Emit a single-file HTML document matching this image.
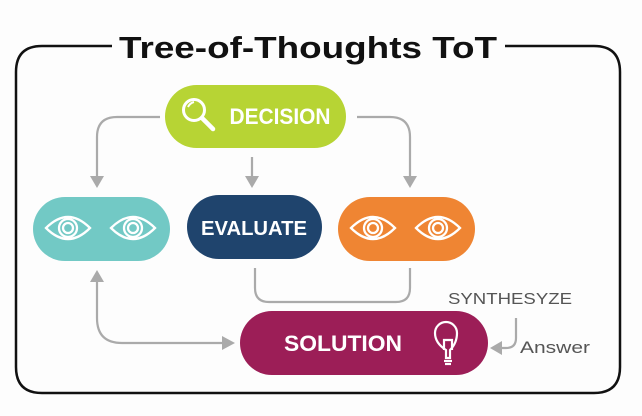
<!DOCTYPE html>
<html><head><meta charset="utf-8"><style>
html,body{margin:0;padding:0;background:#fff;}
svg{display:block;}
text{font-family:"Liberation Sans",sans-serif;}
</style></head><body>
<svg width="642" height="416" viewBox="0 0 642 416" xmlns="http://www.w3.org/2000/svg">
<rect width="642" height="416" fill="#fdfdfd"/>
<!-- frame -->
<path d="M112 46 H42 Q16 46 16 72 V367 Q16 393 42 393 H594 Q620 393 620 367 V72 Q620 46 594 46 H505" fill="none" stroke="#111" stroke-width="2.5"/>
<text x="308" y="58" text-anchor="middle" font-size="31" font-weight="bold" fill="#111" textLength="378" lengthAdjust="spacingAndGlyphs">Tree-of-Thoughts  ToT</text>

<g fill="none" stroke="#aaa" stroke-width="2.2">
<!-- decision branches -->
<path d="M160 117 H117 Q97 117 97 137 V178"/>
<path d="M357 117 H390 Q410 117 410 137 V178"/>
<path d="M252 157 V178"/>
<!-- bracket -->
<path d="M255 268 V288 Q255 302 269 302 H396 Q410 302 410 288 V268"/>
<!-- left loop -->
<path d="M97 282 V318 Q97 343 122 343 H224"/>
<!-- answer arrow -->
<path d="M516 318 V338 Q516 348 506 348 H500"/>
</g>
<g fill="#aaa">
<polygon points="90,176 104,176 97,188"/>
<polygon points="403,176 417,176 410,188"/>
<polygon points="245,176 259,176 252,188"/>
<polygon points="90,282 104,282 97,270"/>
<polygon points="222,336 222,350 235,343"/>
<polygon points="502,341 502,355 490,348"/>
</g>

<!-- decision -->
<rect x="165" y="85" width="181" height="63" rx="31.5" fill="#b7d434"/>
<circle cx="194" cy="110" r="10.5" fill="none" stroke="#fff" stroke-width="3"/>
<path d="M188 107 Q190 103 194 102" fill="none" stroke="#fff" stroke-width="2"/>
<line x1="202" y1="118" x2="213" y2="129" stroke="#fff" stroke-width="4.5" stroke-linecap="round"/>
<text x="280" y="124" text-anchor="middle" font-size="22" font-weight="bold" fill="#fff" textLength="101" lengthAdjust="spacingAndGlyphs">DECISION</text>

<!-- teal -->
<rect x="33" y="197" width="137" height="64" rx="32" fill="#72c9c5"/>
<!-- navy -->
<rect x="187" y="195" width="135" height="64" rx="32" fill="#1f446d"/>
<text x="254" y="235" text-anchor="middle" font-size="20" font-weight="bold" fill="#fff" textLength="106" lengthAdjust="spacingAndGlyphs">EVALUATE</text>
<!-- orange -->
<rect x="338" y="197" width="137" height="64" rx="32" fill="#ef8533"/>

<defs>
<g id="eye" fill="none" stroke="#fff" stroke-width="2.3">
<path d="M-22 0 Q0 -22 22 0 Q0 22 -22 0 Z"/>
<circle cx="0" cy="0" r="9"/>
<circle cx="0" cy="0" r="5"/>
</g>
</defs>
<use href="#eye" x="68" y="228"/>
<use href="#eye" x="133" y="228"/>
<use href="#eye" x="373" y="228"/>
<use href="#eye" x="438" y="228"/>

<!-- solution -->
<rect x="240" y="311" width="248" height="64" rx="32" fill="#9c1e57"/>
<text x="343" y="351" text-anchor="middle" font-size="22" font-weight="bold" fill="#fff" textLength="118" lengthAdjust="spacingAndGlyphs">SOLUTION</text>
<g fill="none" stroke="#fff" stroke-width="2.2">
<path d="M446 358 V350 Q435 343 435 333 A11 11 0 0 1 457 333 Q457 343 450 350 V358 Z"/>
<path d="M444 350 V340 H452 V350"/>
<line x1="444" y1="361" x2="452" y2="361"/>
<line x1="445" y1="364" x2="451" y2="364"/>
</g>

<text x="510" y="304" text-anchor="middle" font-size="16" fill="#555" textLength="124" lengthAdjust="spacingAndGlyphs">SYNTHESYZE</text>
<text x="555" y="353" text-anchor="middle" font-size="17" fill="#555" textLength="70" lengthAdjust="spacingAndGlyphs">Answer</text>
</svg>
</body></html>
